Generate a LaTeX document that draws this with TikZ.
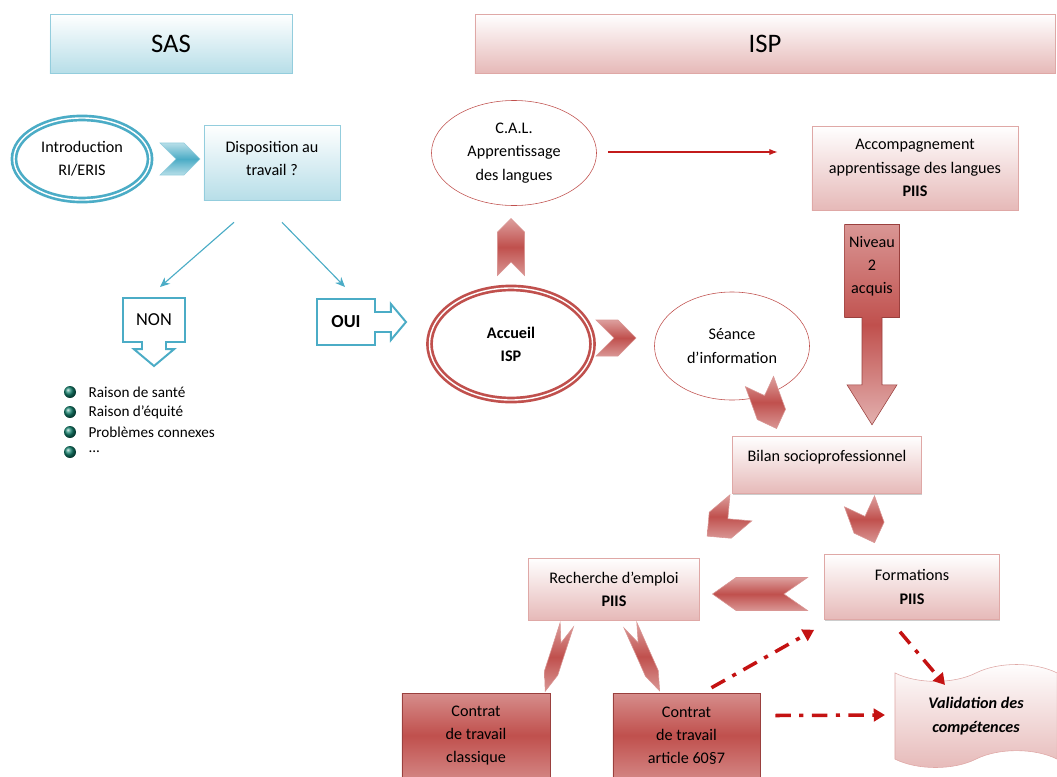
\documentclass[tikz,border=0pt]{standalone}
\usepackage{fontspec}
\setmainfont{Carlito}
\usetikzlibrary{positioning,calc,shapes,shapes.arrows,shapes.symbols,arrows.meta,shadows}
\definecolor{redd}{RGB}{192,80,77}
\definecolor{reddash}{RGB}{196,18,18}
\definecolor{pinkl}{RGB}{230,185,184}
\definecolor{bluel}{RGB}{183,222,232}
\definecolor{tealc}{RGB}{75,172,198}
\definecolor{gemc}{RGB}{20,130,110}
\tikzstyle{sasbox}=[rectangle, draw=tealc!60, top color=white, bottom color=bluel, minimum height=1.475cm, font=\fontsize{19}{22}\selectfont]
\tikzstyle{ispbox}=[rectangle, draw=redd!50, top color=white, bottom color=pinkl, minimum height=1.475cm, font=\fontsize{19}{22}\selectfont]
\tikzstyle{bluebox}=[rectangle, draw=tealc!60, top color=white, bottom color=bluel, align=center, drop shadow={shadow xshift=.6pt, shadow yshift=-.8pt, opacity=.4}]
\tikzstyle{pinkbox}=[rectangle, draw=redd!50, top color=white, bottom color=pinkl, align=center, drop shadow={shadow xshift=.6pt, shadow yshift=-.8pt, opacity=.4}]
\tikzstyle{darkbox}=[rectangle, draw=redd!80!black, top color=redd!65, bottom color=redd!70, middle color=redd, align=center]
\tikzstyle{redell}=[ellipse, draw=redd, thin, fill=white, align=center, inner sep=0pt]
\tikzstyle{dblell}=[ellipse, line width=1.9pt, double=white, double distance=1pt, fill=white, align=center, inner sep=0pt]
\tikzstyle{chev}=[signal, signal to=east, signal from=west, draw=redd!60, top color=redd!55, bottom color=redd!60, middle color=redd, inner sep=0pt]
\tikzstyle{bluechev}=[chev, draw=tealc!60, top color=bluel, bottom color=bluel, middle color=tealc]
\tikzstyle{outarrow}=[arrow box, draw=tealc, line width=1.4pt, fill=white, align=center, font=\fontsize{13}{15}\selectfont]
\tikzstyle{gem}=[circle, ball color=gemc, minimum size=.3cm, inner sep=0pt]
\tikzstyle{listtext}=[inner sep=0pt, font=\fontsize{10.8}{12}\selectfont]
\tikzstyle{tline}=[-{Stealth[length=7pt, width=6pt]}, tealc, thick]
\tikzstyle{rline}=[-{Latex[length=6pt]}, reddash!85!redd, thick]
\tikzstyle{ddline}=[-{Triangle[length=8pt, width=9pt]}, reddash, line width=2.5pt, dash pattern=on 11pt off 6pt on 3pt off 6pt]
\newcommand\chevnode[5][]{
            \node (#2) [chev, minimum width=#3, minimum height=#4, #1] at (#5) {};
        }

\begin{document}
\begin{tikzpicture}[x=0.025cm, y=-0.025cm, node distance=0mm, every node/.append style={font=\fontsize{11.5}{16.5}\selectfont}]
    \useasboundingbox (0,0) rectangle (1057,776);

    \node (sas) [sasbox, minimum width=6.05cm] at (171,43.5) {SAS};
    \node (isp) [ispbox, minimum width=14.5cm] at (765,43.5) {ISP};

% SAS
    \node (intro) [dblell, draw=tealc, minimum width=3.4cm, minimum height=2.05cm] at (82,159) {Introduction\\RI/ERIS};
    \node (disp) [bluebox, minimum width=3.4cm, minimum height=1.875cm, text depth=.2cm] at (272,162.5) {Disposition au\\travail ?};
    \chevnode[bluechev]{bchev}{1cm}{.8cm}{180,159}

    \node (non) [outarrow, minimum width=1.55cm, minimum height=1.1cm, arrow box arrows={south:.575cm}, arrow box shaft width=.6cm, arrow box head extend=.2cm, arrow box tip angle=100] at (154,320) {NON};
    \node (oui) [outarrow, minimum width=1.45cm, minimum height=1.15cm, arrow box arrows={east:.75cm}, arrow box shaft width=.5cm, arrow box head extend=.2cm, arrow box tip angle=100] at (346,322) {\textbf{OUI}};

    \node (b1) [gem] at (70,392) {};
    \node (t1) [listtext, right=.3cm of b1] {Raison de santé};
    \node (b2) [gem] at (70,412) {};
    \node (t2) [listtext, right=.3cm of b2] {Raison d’équité};
    \node (b3) [gem] at (70,432) {};
    \node (t3) [listtext, right=.3cm of b3] {Problèmes connexes};
    \node (b4) [gem] at (70,452) {};
    \node (t4) [listtext, right=.3cm of b4] {...};
%%%% end SAS

% ISP
    \node (cal) [redell, minimum width=4.125cm, minimum height=2.625cm] at (514,153) {C.A.L.\\Apprentissage\\des langues};
    \node (accomp) [pinkbox, minimum width=5.15cm, minimum height=2.1cm] at (915,168) {Accompagnement\\apprentissage des langues\\\textbf{PIIS}};
    \node (accueil) [dblell, draw=redd, minimum width=4.075cm, minimum height=2.8cm] at (511,344) {\textbf{Accueil}\\\textbf{ISP}};
    \node (seance) [redell, minimum width=3.875cm, minimum height=2.7cm] at (732,346) {Séance\\d’information};
    \node (niveau) [arrow box, draw=redd!80!black, top color=redd!60, bottom color=redd!45, middle color=redd, align=center, minimum width=1.3cm, minimum height=2.325cm, text depth=.3cm, arrow box arrows={south:2.675cm}, arrow box shaft width=.5cm, arrow box head extend=.375cm, arrow box tip angle=64] at (872,271) {Niveau\\2\\acquis};
    \node (bilan) [pinkbox, minimum width=4.725cm, minimum height=1.425cm, text depth=.45cm] at (827,465) {Bilan socioprofessionnel};
    \node (recherche) [pinkbox, minimum width=4.275cm, minimum height=1.55cm] at (614,589) {Recherche d’emploi\\\textbf{PIIS}};
    \node (formations) [pinkbox, minimum width=4.375cm, minimum height=1.625cm] at (912,587) {Formations\\\textbf{PIIS}};
    \node (classique) [darkbox, minimum width=3.7cm, minimum height=2.125cm] at (476,735.5) {Contrat\\de travail\\classique};
    \node (article) [darkbox, minimum width=3.675cm, minimum height=2.125cm] at (686.5,735.5) {Contrat\\de travail\\article 60§7};
    \node (valid) [tape, draw=redd!50, top color=white, bottom color=pinkl, align=center, minimum width=4.05cm, minimum height=2.575cm, tape bend height=12pt, font=\fontsize{11.5}{16.5}\selectfont\bfseries\itshape] at (976,716) {Validation des\\compétences};

%chevrons between the steps
    \chevnode[rotate=90]{upchev}{1.425cm}{.675cm}{511,247}
    \chevnode{rchev}{1cm}{.9cm}{616,338}
    \chevnode[rotate=-70]{sbchev}{1.25cm}{.75cm}{768,405}
    \chevnode[rotate=-140]{blchev}{1.1cm}{.85cm}{724,522}
    \chevnode[rotate=-70]{brchev}{1.1cm}{.8cm}{867,522}
    \chevnode[rotate=180, signal pointer angle=70]{fchev}{2.375cm}{.825cm}{760,594}
    \chevnode[rotate=-108, signal pointer angle=40]{cchev}{1.75cm}{.35cm}{556,658}
    \chevnode[rotate=-66, signal pointer angle=40]{achev}{1.8cm}{.35cm}{645,658}

   \draw[tline] ($(disp.south)+(-38,22)$) -- ($(non.north)+(6,-10)$);
   \draw[tline] ($(disp.south)+(10,22)$) -- ($(oui.north)+(-1,-11)$);
   \draw[rline] ($(cal.east)+(11,-1)$) -- ($(accomp.west)+(-34,-16)$);

%dash dot lines
   \draw[ddline] ($(article.north)+(25,-5)$) -- ($(formations.south west)+(-10,10)$);
   \draw[ddline] ($(formations.south)+(-12,12)$) -- ($(valid.center)+(-31,-31)$);
   \draw[ddline] ($(article.east)+(15,-20)$) -- ($(valid.center)+(-91,-1)$);

\end{tikzpicture}
\end{document}
